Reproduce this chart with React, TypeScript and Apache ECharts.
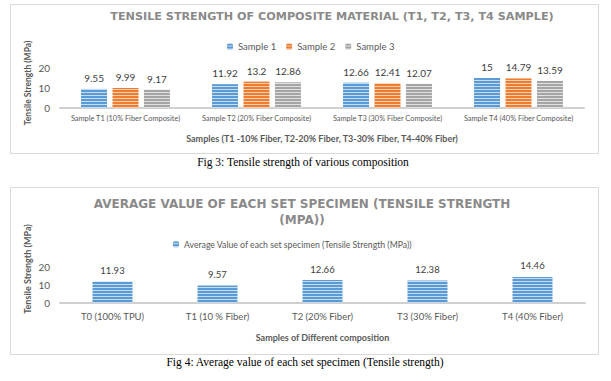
import React, { useEffect, useRef } from 'react';
import * as echarts from 'echarts';

const fig3Categories = [
  'Sample T1 (10% Fiber Composite)',
  'Sample T2 (20% Fiber Composite)',
  'Sample T3 (30% Fiber Composite)',
  'Sample T4 (40% Fiber Composite)',
];
const sample1 = [9.55, 11.92, 12.66, 15];
const sample2 = [9.99, 13.2, 12.41, 14.79];
const sample3 = [9.17, 12.86, 12.07, 13.59];
const fig4Categories = ['T0 (100% TPU)', 'T1 (10 % Fiber)', 'T2 (20% Fiber)', 'T3 (30% Fiber)', 'T4 (40% Fiber)'];
const averageValues = [11.93, 9.57, 12.66, 12.38, 14.46];
const yTicks = [0, 10, 20];

function stripes(dark: string, light: string) {
  const c = document.createElement('canvas');
  c.width = 4;
  c.height = 3;
  const ctx = c.getContext('2d')!;
  ctx.fillStyle = dark;
  ctx.fillRect(0, 0, 4, 2);
  ctx.fillStyle = light;
  ctx.fillRect(0, 2, 4, 1);
  return { image: c, repeat: 'repeat', imageWidth: 4, imageHeight: 3 } as any;
}

const FONT = 'Lato, "Noto Sans", sans-serif';
const SERIF = '"Liberation Serif", "DejaVu Serif", serif';

function txt(x: number, y: number, text: string, size: number, weight: string, fill: string, family: string, extra: any = {}) {
  return {
    type: 'text',
    x,
    y,
    ...extra,
    style: {
      text,
      fontSize: size,
      fontWeight: weight,
      fontFamily: family,
      fill,
      align: 'center',
      verticalAlign: 'middle',
      textAlign: 'center',
      textVerticalAlign: 'middle',
      lineHeight: extra.lineHeight || undefined,
    },
  };
}

export default function App() {
  const ref = useRef<HTMLDivElement>(null);
  useEffect(() => {
    const chart = echarts.init(ref.current!, undefined, { renderer: 'svg' });
    const blue = stripes('#5b9bd5', '#c5dcf1');
    const orange = stripes('#ed7d31', '#f9cdb0');
    const gray = stripes('#a5a5a5', '#e0e0e0');
    const yMin = yTicks[0];
    const yMax = yTicks[yTicks.length - 1];
    const yInt = yTicks[1] - yTicks[0];
    const yAxisBase = {
      type: 'value',
      min: yMin,
      max: yMax,
      interval: yInt,
      splitLine: { show: false },
      axisLine: { show: false },
      axisTick: { show: false },
      axisLabel: { fontSize: 10, color: '#595959', margin: 10, fontFamily: FONT },
    };
    const labelBase = { show: true, position: 'top', distance: 6, fontSize: 10, color: '#404040', fontFamily: FONT };
    const option: any = {
      animation: false,
      backgroundColor: '#ffffff',
      grid: [
        { left: 60, width: 524, top: 68, height: 40 },
        { left: 60, width: 525, top: 267, height: 35.7 },
      ],
      legend: [
        {
          data: ['Sample 1', 'Sample 2', 'Sample 3'],
          left: 227,
          top: 41.5,
          itemWidth: 6,
          itemHeight: 6,
          itemGap: 10,
          padding: 0,
          textStyle: { fontSize: 9.5, color: '#595959', fontFamily: FONT },
        },
        {
          data: ['Average Value of each set specimen (Tensile Strength (MPa))'],
          left: 173,
          top: 239.7,
          itemWidth: 6,
          itemHeight: 6,
          padding: 0,
          textStyle: { fontSize: 8.7, color: '#595959', fontFamily: FONT },
        },
      ],
      xAxis: [
        {
          gridIndex: 0,
          type: 'category',
          data: fig3Categories,
          axisTick: { show: false },
          axisLine: { lineStyle: { color: '#d0d0d0', width: 2 } },
          axisLabel: { fontSize: 7.4, color: '#595959', margin: 7, interval: 0, fontFamily: FONT },
          name: 'Samples (T1 -10% Fiber, T2-20% Fiber, T3-30% Fiber, T4-40% Fiber)',
          nameLocation: 'middle',
          nameGap: 26,
          nameTextStyle: { fontSize: 9, fontWeight: 'bold', color: '#595959', fontFamily: FONT },
        },
        {
          gridIndex: 1,
          type: 'category',
          data: fig4Categories,
          axisTick: { show: false },
          axisLine: { lineStyle: { color: '#d0d0d0', width: 2 } },
          axisLabel: { fontSize: 9.5, color: '#595959', margin: 9, interval: 0, fontFamily: FONT },
          name: 'Samples of Different composition',
          nameLocation: 'middle',
          nameGap: 30,
          nameTextStyle: { fontSize: 9, fontWeight: 'bold', color: '#595959', fontFamily: FONT },
        },
      ],
      yAxis: [
        { ...yAxisBase, gridIndex: 0 },
        { ...yAxisBase, gridIndex: 1 },
      ],
      series: [
        { name: 'Sample 1', type: 'bar', xAxisIndex: 0, yAxisIndex: 0, data: sample1, barWidth: 26, barGap: '21%', itemStyle: { color: blue }, label: labelBase },
        { name: 'Sample 2', type: 'bar', xAxisIndex: 0, yAxisIndex: 0, data: sample2, barWidth: 26, barGap: '21%', itemStyle: { color: orange }, label: labelBase },
        { name: 'Sample 3', type: 'bar', xAxisIndex: 0, yAxisIndex: 0, data: sample3, barWidth: 26, barGap: '21%', itemStyle: { color: gray }, label: labelBase },
        {
          name: 'Average Value of each set specimen (Tensile Strength (MPa))',
          type: 'bar',
          xAxisIndex: 1,
          yAxisIndex: 1,
          data: averageValues,
          barWidth: 40,
          itemStyle: { color: blue },
          label: { ...labelBase, fontSize: 9.5 },
        },
      ],
      graphic: [
        { type: 'rect', shape: { x: 10.5, y: 4.5, width: 588, height: 149 }, style: { fill: 'none', stroke: '#d9d9d9', lineWidth: 1 }, silent: true },
        { type: 'rect', shape: { x: 10.5, y: 187.5, width: 588, height: 167 }, style: { fill: 'none', stroke: '#d9d9d9', lineWidth: 1 }, silent: true },
        txt(332, 16, 'TENSILE STRENGTH OF COMPOSITE MATERIAL (T1, T2, T3, T4 SAMPLE)', 11.2, 'bold', '#8a8a8a', '"DejaVu Sans", sans-serif'),
        txt(302, 212, 'AVERAGE VALUE OF EACH SET SPECIMEN (TENSILE STRENGTH\n(MPA))', 12, 'bold', '#8a8a8a', '"DejaVu Sans", sans-serif', { lineHeight: 16 }),
        txt(28, 83, 'Tensile Strength (MPa)', 8.5, 'bold', '#595959', FONT, { rotation: Math.PI / 2 }),
        txt(27, 269, 'Tensile Strength (MPa)', 9, 'bold', '#595959', FONT, { rotation: Math.PI / 2 }),
        txt(303, 162, 'Fig 3: Tensile strength of various composition', 11.5, 'normal', '#000000', SERIF),
        txt(305, 362, 'Fig 4: Average value of each set specimen (Tensile strength)', 11.5, 'normal', '#000000', SERIF),
      ],
    };
    chart.setOption(option);
    return () => chart.dispose();
  }, []);
  return <div ref={ref} style={{ position: 'absolute', left: 0, top: 0, width: 611, height: 381 }} />;
}
